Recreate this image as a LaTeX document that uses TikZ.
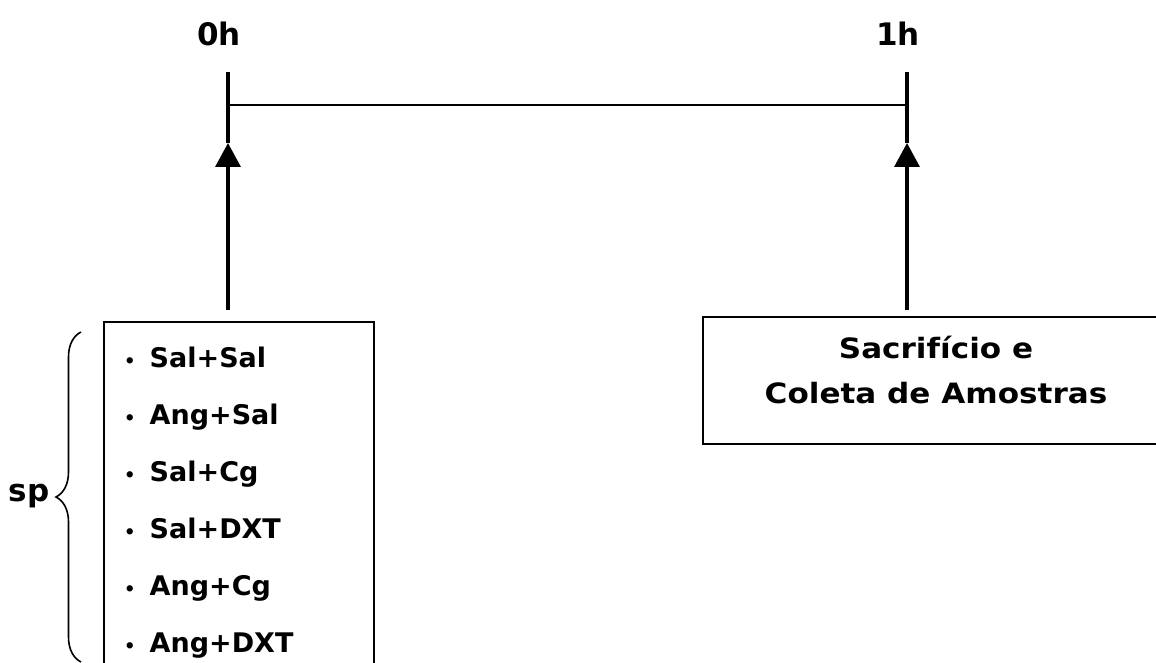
\documentclass[tikz,border=0pt]{standalone}
\usepackage{fontspec}
\setmainfont{DejaVu Sans}
\newfontfamily\widefont[FakeStretch=1.11]{DejaVu Sans}
\usetikzlibrary{arrows.meta,decorations.pathreplacing}
\begin{document}
\begin{tikzpicture}[x=1pt,y=-1pt,
  lbl/.style={font=\bfseries\fontsize{31}{36}\selectfont, inner sep=0pt, anchor=base},
  rtx/.style={font=\widefont\bfseries\fontsize{28}{34}\selectfont, inner sep=0pt, anchor=base},
  item/.style={font=\bfseries\fontsize{27}{32}\selectfont, inner sep=0pt, anchor=base west},
  boxst/.style={draw, line width=1.5pt, inner sep=0pt, anchor=north west},
  thickln/.style={line width=3.5pt},
  tip/.style={-{Triangle[width=25pt,length=24pt]}},
  thinln/.style={line width=1.6pt}]
\useasboundingbox (0,0) rectangle (1156,663);
% labels
\node[lbl] (h0) at (219,46) {0h};
\node[lbl] (h1) at (898,46) {1h};
% coordinates
\coordinate (top0) at (228,72);
\coordinate (top1) at (907,72);
\coordinate (tip0) at (228,143);
\coordinate (tip1) at (907,143);
\coordinate (bot0) at (228,310);
\coordinate (bot1) at (907,310);
\coordinate (mid0) at (228,105);
\coordinate (mid1) at (907,105);
% timeline
\draw[thinln] (mid0) -- (mid1);
\draw[thickln] (tip0) -- (top0);
\draw[thickln] (tip1) -- (top1);
\draw[thickln,tip] (bot0) -- (tip0);
\draw[thickln,tip] (bot1) -- (tip1);
% boxes
\node[boxst, minimum width=270pt, minimum height=360pt] (lbox) at (103,321) {};
\node[boxst, minimum width=454pt, minimum height=127pt] (rbox) at (702,316) {};
\node[rtx] (r1) at (936,358) {Sacrifício e};
\node[rtx] (r2) at (936,403) {Coleta de Amostras};
% items
\foreach \t [count=\i] in {Sal+Sal,Ang+Sal,Sal+Cg,Sal+DXT,Ang+Cg,Ang+DXT}{
  \node[item] (it\i) at (124,367+57*\i-57) {{\fontsize{18}{18}\selectfont •}\hspace{14pt}\t};
}
% brace
\coordinate (bb) at (81,662);
\coordinate (bt) at (81,332);
\draw[thinln, decorate, decoration={brace, amplitude=25pt}] (bb) -- (bt);
\node[lbl] (sp) at (29,501) {sp};
\end{tikzpicture}
\end{document}
